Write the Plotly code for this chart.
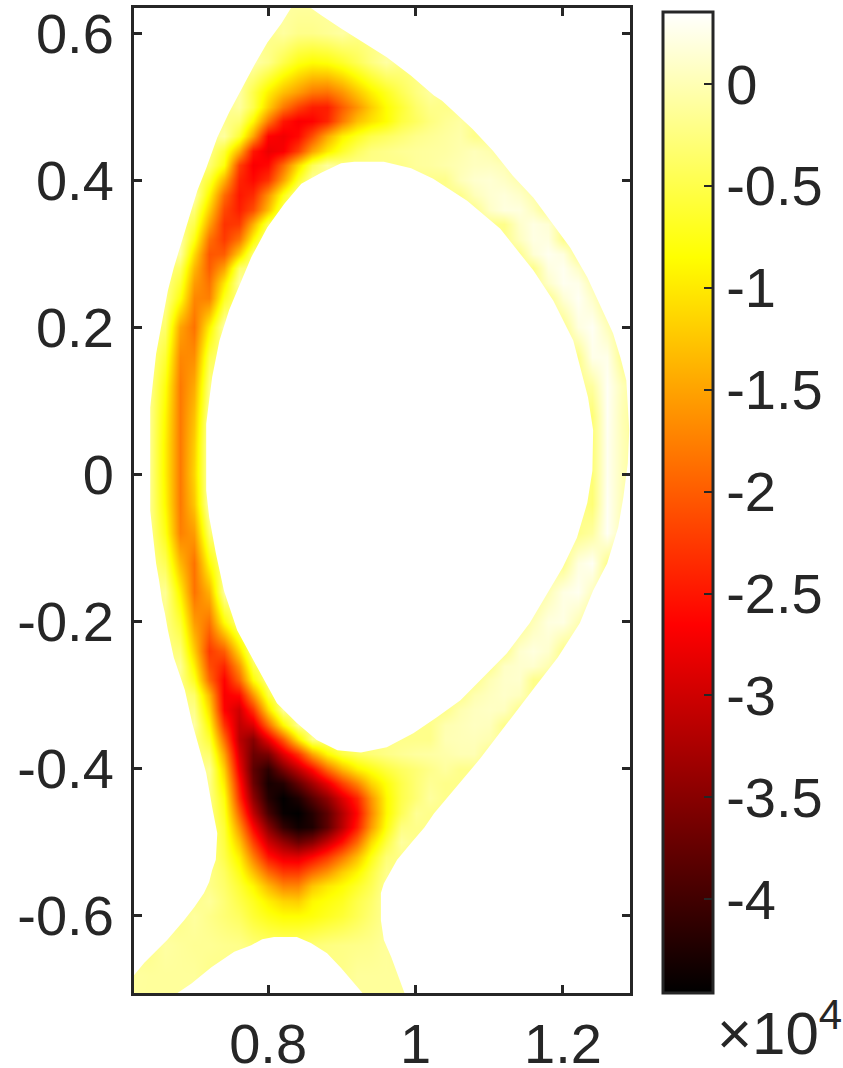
import plotly.graph_objects as go

E = -0.2  # level under the white regions, so that band edges come out pale yellow
Z_MIN, Z_MAX = -4.46, 0.353
R_MIN, R_MAX = 0.618, 1.291
H_MIN, H_MAX = -0.705, 0.634

R_GRID = [0.62 + 0.02 * i for i in range(35)]
H_GRID = [.64, .60, .56, .52, .50, .48, .46, .44, .42, .40, .38, .36, .34, .32, .30, .28, .26, .24,
          .20, .16, .12, .08, .04, 0, -.04, -.08, -.12, -.16, -.20, -.24, -.26, -.28, -.30, -.32,
          -.34, -.36, -.38, -.40, -.42, -.44, -.46, -.48, -.50, -.52, -.54, -.56, -.58, -.60, -.64,
          -.68, -.72]

# Each row: list of (first column), unit 1e4
ROWS = [
 [(10, [-.1, -.1, -.1, -.1])],
 [(10, [-.1, -.2, -.2, -.15, -.08])],
 [(8, [-.05, -.2, -.5, -.75, -.85, -.8, -.65, -.45, -.25, -.08])],
 [(7, [-.08, -.5, -.95, -1.3, -1.55, -1.8, -1.85, -1.6, -1.25, -.95, -.7, -.45, -.25, -.1])],
 [(7, [-.1, -.5, -1.2, -1.8, -2.2, -2.45, -2.45, -2.0, -1.6, -1.2, -.85, -.6, -.35, -.2])],
 [(7, [-.3, -.9, -1.8, -2.5, -2.7, -2.65, -2.4, -1.8, -1.3, -1.05, -.85, -.55, -.4, -.25, -.15, -.08])],
 [(6, [-.1, -.6, -1.5, -2.65, -2.75, -2.6, -2.1, -1.45, -.95, -.7, -.5, -.4, -.3, -.2, -.15, -.1, -.05])],
 [(6, [-.6, -1.4, -2.5, -2.8, -2.7, -2.2, -1.5, -1.0, -.65, -.4, -.25, -.2, -.15, -.12, -.1, -.08, -.03, .03, -.03])],
 [(5, [-.3, -.8, -2.2, -2.7, -2.6, -1.9, -1.1, -.45, -.1]), (19, [-.12, -.1, -.05, 0, .05, .05, 0])],
 [(5, [-.6, -1.4, -2.4, -2.6, -2.3, -1.5, -.65, -.1]), (22, [.02, .12, .15, .08, -.03])],
 [(4, [-.05, -.9, -1.9, -2.5, -2.35, -1.6, -.75, -.1]), (23, [.02, .13, .18, .1, -.05])],
 [(4, [-.3, -1.2, -2.15, -2.45, -2.1, -1.3, -.4]), (24, [.08, .2, .2, .05])],
 [(4, [-.5, -1.5, -2.3, -2.25, -1.4, -.45]), (26, [.1, .22, .15])],
 [(3, [-.05, -.75, -1.85, -2.25, -1.85, -.9, -.1]), (26, [.05, .22, .2])],
 [(3, [-.1, -1.1, -2.05, -2.0, -1.2, -.3]), (27, [.15, .28, .2])],
 [(3, [-.4, -1.35, -2.0, -1.5, -.35]), (28, [.2, .28, .08])],
 [(3, [-.6, -1.55, -1.85, -1.0, -.1]), (28, [.1, .28, .25, -.02])],
 [(3, [-.8, -1.7, -1.75, -.7]), (29, [.15, .3, .1])],
 [(2, [-.35, -1.5, -1.85, -.95, -.05]), (30, [.2, .3, .03])],
 [(2, [-.6, -1.7, -1.65, -.5]), (31, [.25, .25])],
 [(2, [-.8, -1.8, -1.45, -.25]), (31, [-.1, .3, .02])],
 [(2, [-.9, -1.8, -1.3, -.1]), (31, [-.3, .3, 0])],
 [(2, [-.95, -1.8, -1.2, 0]), (31, [-.3, .28, .02])],
 [(2, [-.95, -1.8, -1.15, 0]), (31, [-.3, .28, .02])],
 [(2, [-.9, -1.8, -1.25, 0]), (31, [-.3, .3, 0])],
 [(2, [-.75, -1.75, -1.55, -.35]), (31, [-.1, .3, -.02])],
 [(2, [-.45, -1.35, -1.85, -.85]), (30, [.2, .3])],
 [(2, [-.15, -.95, -1.85, -1.4, -.1]), (28, [0, .22, .28, .05])],
 [(3, [-.6, -1.55, -1.85, -.85]), (27, [.02, .2, .22, 0])],
 [(3, [-.3, -1.2, -2.25, -2.0, -1.1, -.15]), (26, [.12, .2, .12])],
 [(3, [-.15, -.95, -2.1, -2.4, -1.6, -.5]), (25, [.08, .12, .12, -.02])],
 [(4, [-.7, -1.9, -2.65, -1.95, -.85]), (24, [0, .1, .12])],
 [(4, [-.35, -1.35, -2.7, -2.6, -1.6, -.55]), (23, [-.02, .05, .1, .05])],
 [(4, [-.2, -1.1, -2.65, -3.0, -2.3, -1.1, -.15]), (22, [-.02, .05, .08, .05])],
 [(4, [-.08, -.85, -2.3, -3.1, -2.9, -1.9, -.9, -.15]), (21, [-.02, .02, .06, .04])],
 [(5, [-.6, -1.9, -3.15, -3.5, -2.8, -2.0, -1.0, -.2]), (21, [0, .02, .03, -.02])],
 [(5, [-.35, -1.5, -2.95, -3.7, -3.6, -2.9, -2.3, -1.5, -.9, -.55, -.4, -.3, -.22, -.15, -.1, -.08, -.05, 0, 0])],
 [(5, [-.15, -1.2, -2.75, -3.8, -4.15, -3.6, -3.1, -2.6, -1.9, -1.35, -.95, -.75, -.55, -.4, -.3, -.2, -.1])],
 [(6, [-1.0, -2.5, -3.7, -4.3, -4.2, -3.75, -3.3, -2.8, -2.2, -1.7, -1.15, -.8, -.5, -.3, -.15])],
 [(6, [-.8, -2.3, -3.45, -4.2, -4.45, -4.25, -3.85, -3.45, -2.9, -2.4, -1.6, -.9, -.5, -.3, -.1])],
 [(6, [-.7, -1.95, -3.1, -3.95, -4.4, -4.46, -4.2, -3.8, -3.2, -2.6, -1.7, -.9, -.45, -.15])],
 [(6, [-.6, -1.6, -2.65, -3.5, -4.1, -4.35, -4.25, -3.8, -3.15, -2.45, -1.55, -.8, -.25])],
 [(6, [-.55, -1.25, -2.2, -3.0, -3.4, -3.7, -3.5, -3.05, -2.55, -1.9, -1.1, -.55, -.1])],
 [(6, [-.5, -.95, -1.75, -2.5, -2.8, -2.85, -2.6, -2.25, -1.8, -1.3, -.75, -.3])],
 [(6, [-.4, -.75, -1.3, -1.9, -2.25, -2.25, -1.9, -1.6, -1.2, -.9, -.55, -.2])],
 [(6, [-.35, -.6, -.9, -1.35, -1.7, -1.7, -1.25, -1.0, -.85, -.65, -.45, -.15])],
 [(5, [-.12, -.3, -.5, -.7, -.95, -1.15, -1.2, -.9, -.8, -.7, -.5, -.35, -.12])],
 [(4, [-.1, -.2, -.3, -.4, -.6, -.75, -.85, -.85, -.8, -.7, -.6, -.45, -.3, -.15])],
 [(2, [-.08, -.12, -.15, -.15, -.18, -.2, -.3, -.35, -.35, -.35, -.3, -.25, -.22, -.2, -.18, -.12])],
 [(0, [-.1, -.12, -.12, -.12, -.12]), (15, [-.12, -.12, -.12, -.12])],
 [(0, [-.12, -.12, -.12, -.12, -.12]), (15, [-.12, -.12, -.12, -.12])],
]

# Boundaries of the white regions (R, Z)
LEFT_R = [.831,.818,.799,.781,.763,.747,.731,.716,.704,.693,.682,.672,.664,.656,.648,.644,.640,.640,.644,.648,.652,.656,.660,.664,.672,.687,.697,.706,.716,.724,.731,.729,.724,.72,.713,.70,.686,.663,.645,.632,.618]
LEFT_Z = [.634,.613,.587,.556,.522,.492,.458,.416,.386,.349,.314,.281,.25,.205,.164,.128,.091,-.049,-.09,-.121,-.144,-.171,-.189,-.212,-.249,-.293,-.338,-.371,-.406,-.452,-.488,-.524,-.538,-.554,-.569,-.588,-.606,-.633,-.651,-.664,-.681]
RIGHT_R = [.858,.872,.899,.93,.961,.994,1.025,1.036,1.077,1.105,1.132,1.16,1.183,1.21,1.233,1.25,1.268,1.278,1.286,1.29,1.288,1.282,1.275,1.26,1.241,1.223,1.193,1.162,1.131,1.108,1.088,1.025,1.012,.994,.975,.957,.953,.953,.957,.967,.975,.985]
RIGHT_Z = [.634,.624,.606,.587,.567,.542,.515,.508,.47,.44,.406,.376,.345,.308,.268,.232,.192,.159,.128,.06,.015,-.031,-.072,-.121,-.158,-.202,-.249,-.289,-.33,-.361,-.386,-.461,-.48,-.501,-.524,-.556,-.569,-.606,-.633,-.656,-.678,-.705]
DOME_R = [.677,.696,.723,.754,.777,.792,.808,.839,.858,.88,.899,.917,.928]
DOME_Z = [-.705,-.692,-.67,-.649,-.64,-.632,-.629,-.629,-.637,-.651,-.671,-.692,-.705]
HOLE_R = [.917,.957,.994,1.024,1.07,1.115,1.16,1.187,1.214,1.234,1.241,1.24,1.233,1.219,1.2,1.179,1.155,1.124,1.092,1.061,1.029,.997,.961,.926,.894,.866,.839,.812,.785,.758,.74,.729,.72,.716,.716,.724,.734,.747,.754,.777,.799,.822,.845,.872,.899]
HOLE_Z = [.425,.425,.416,.402,.372,.334,.277,.236,.182,.105,.06,.005,-.039,-.086,-.126,-.162,-.202,-.243,-.276,-.307,-.33,-.352,-.371,-.378,-.375,-.361,-.338,-.311,-.262,-.212,-.158,-.107,-.058,-.022,.069,.132,.182,.223,.24,.295,.336,.368,.395,.41,.423]

X_TICKS = [0.8, 1.0, 1.2]
X_LABELS = ["0.8", "1", "1.2"]
Y_TICKS = [0.6, 0.4, 0.2, 0, -0.2, -0.4, -0.6]
Y_LABELS = ["0.6", "0.4", "0.2", "0", "-0.2", "-0.4", "-0.6"]
C_TICKS = [0, -0.5, -1, -1.5, -2, -2.5, -3, -3.5, -4]
C_LABELS = ["0", "-0.5", "-1", "-1.5", "-2", "-2.5", "-3", "-3.5", "-4"]

INK = "#262626"
FONT = "Liberation Sans"
SIZE = 56

z = []
for spans in ROWS:
    row = [E] * len(R_GRID)
    for start, vals in spans:
        row[start:start + len(vals)] = vals
    z.append(row)

mask_x = [R_MIN] + LEFT_R + [None] + RIGHT_R + [R_MAX, R_MAX] + [None] + DOME_R + [None] + HOLE_R
mask_y = [H_MAX] + LEFT_Z + [None] + RIGHT_Z + [H_MIN, H_MAX] + [None] + DOME_Z + [None] + HOLE_Z

fig = go.Figure()
fig.add_trace(go.Heatmap(
    x=R_GRID, y=H_GRID, z=z, zmin=Z_MIN, zmax=Z_MAX, zsmooth="best",
    colorscale=[[0, "#000000"], [0.375, "#ff0000"], [0.75, "#ffff00"], [1, "#ffffff"]],
    colorbar=dict(
        thickness=50, thicknessmode="pixels", len=981, lenmode="pixels",
        x=(663 - 134) / 496, xanchor="left", xpad=0,
        y=0, yanchor="bottom", ypad=0,
        outlinewidth=3, outlinecolor=INK,
        tickmode="array", tickvals=C_TICKS, ticktext=C_LABELS,
        ticks="inside", ticklen=10, tickwidth=2, tickcolor=INK,
        tickprefix="\u200a\u200a",
        tickfont=dict(family=FONT, size=SIZE, color=INK),
    ),
))
fig.add_trace(go.Scatter(
    x=mask_x, y=mask_y, mode="lines", line=dict(width=0, color="white"),
    fill="toself", fillcolor="white", hoverinfo="skip", showlegend=False,
))

axis_style = dict(
    showgrid=False, zeroline=False, showline=True, linecolor=INK, linewidth=3,
    mirror="allticks", ticks="inside", ticklen=8, tickwidth=3, tickcolor=INK,
    tickfont=dict(family=FONT, size=SIZE, color=INK), tickmode="array",
)
fig.update_xaxes(range=[R_MIN, R_MAX], tickvals=X_TICKS, ticktext=X_LABELS, ticklabelstandoff=0, **axis_style)
fig.update_yaxes(range=[H_MIN, H_MAX], tickvals=Y_TICKS, ticktext=Y_LABELS, ticklabelstandoff=6, **axis_style)

fig.add_annotation(
    xref="paper", yref="paper", x=(843 - 134) / 496, y=-75 / 985,
    xanchor="right", yanchor="bottom", showarrow=False, borderpad=0,
    text="×10<sup>4</sup>", font=dict(family=FONT, size=60, color=INK),
)
fig.update_layout(
    width=843, height=1068, margin=dict(l=134, r=213, t=8, b=75, autoexpand=False),
    paper_bgcolor="white", plot_bgcolor="white", showlegend=False,
)
fig.write_html("out.html", config=dict(displayModeBar=False), post_script="document.body.style.margin='0';")
